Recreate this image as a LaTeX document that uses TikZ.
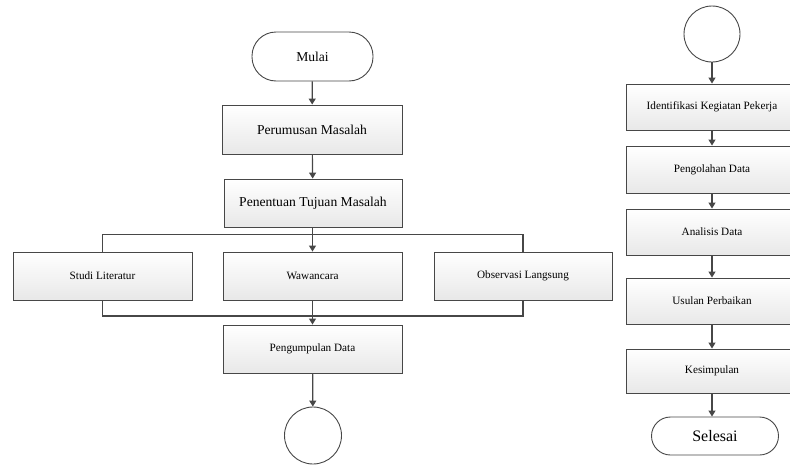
\documentclass[tikz,border=0pt]{standalone}
\usepackage{fontspec}
\setmainfont{Liberation Serif}
\usetikzlibrary{arrows.meta,shadows}
\begin{document}
\begin{tikzpicture}[x=1pt,y=-1pt,
  procbox/.style={draw=black!72, line width=0.9pt, top color=white, bottom color=black!9,
    drop shadow={shadow xshift=1.3pt,shadow yshift=-1.3pt,fill=black!30,opacity=0.6},
    minimum width=179pt, minimum height=48pt, inner sep=0pt, font=\fontsize{11.2}{13}\selectfont},
  bigbox/.style={procbox, font=\fontsize{13.6}{16}\selectfont},
  rbox/.style={procbox, minimum width=172pt, minimum height=46pt},
  termbox/.style={draw=black!72, line width=0.9pt, fill=white, rounded corners=19pt,
    minimum height=38pt, inner sep=0pt},
  conn/.style={draw=black!72, fill=white, line width=0.9pt, circle, inner sep=0pt},
  link/.style={draw=black!72, line width=1.2pt},
  arr/.style={link, -{Triangle[length=6pt,width=7pt]}}
]
\path[use as bounding box] (0,0) rectangle (790,466);
\clip (0,0) rectangle (790,466);

% left column
\node[termbox, rounded corners=24pt, minimum width=121pt, minimum height=49pt,
  font=\fontsize{13.6}{16}\selectfont] (mulai) at (312.5,56.5) {Mulai};
\node[bigbox, minimum width=180pt, minimum height=49pt] (perumusan) at (312,129.5) {Perumusan Masalah};
\node[bigbox, minimum width=178pt] (penentuan) at (313,203) {Penentuan Tujuan Masalah};
\node[procbox] (studi) at (102.5,276) {Studi Literatur};
\node[procbox] (wawancara) at (312.5,276) {Wawancara};
\node[procbox, minimum width=178pt] (observasi) at (523,276) {Observasi Langsung};
\node[procbox] (pengumpulan) at (312.5,349) {Pengumpulan Data};
\node[conn, minimum size=57pt] (c1) at (313,435.5) {};

\coordinate (bt) at (312.5,234.5);
\coordinate (bb) at (312.5,316);

\draw[arr] (mulai) -- (perumusan);
\draw[arr] (perumusan) -- (penentuan);
\draw[arr] (penentuan.south -| wawancara.north) -- (wawancara.north);
\draw[link] (studi.north) |- (bt) -| (observasi.north);
\draw[link] (studi.south) |- (bb) -| (observasi.south);
\draw[arr] (wawancara) -- (pengumpulan);
\draw[arr] (pengumpulan) -- (c1);

% right column
\node[conn, minimum size=56pt] (c2) at (712,34) {};
\node[rbox] (identifikasi) at (712,107) {Identifikasi Kegiatan Pekerja};
\node[rbox, minimum height=47pt] (pengolahan) at (712,169.5) {Pengolahan Data};
\node[rbox] (analisis) at (712,232) {Analisis Data};
\node[rbox] (usulan) at (712,301) {Usulan Perbaikan};
\node[rbox, minimum height=44pt] (kesimpulan) at (712,371) {Kesimpulan};
\node[termbox, minimum width=127pt, font=\fontsize{16}{19}\selectfont] (selesai) at (715,436) {Selesai};

\draw[arr] (c2) -- (identifikasi);
\draw[arr] (identifikasi) -- (pengolahan);
\draw[arr] (pengolahan) -- (analisis);
\draw[arr] (analisis) -- (usulan);
\draw[arr] (usulan) -- (kesimpulan);
\draw[arr] (kesimpulan.south) -- (kesimpulan.south |- selesai.north);
\end{tikzpicture}
\end{document}
